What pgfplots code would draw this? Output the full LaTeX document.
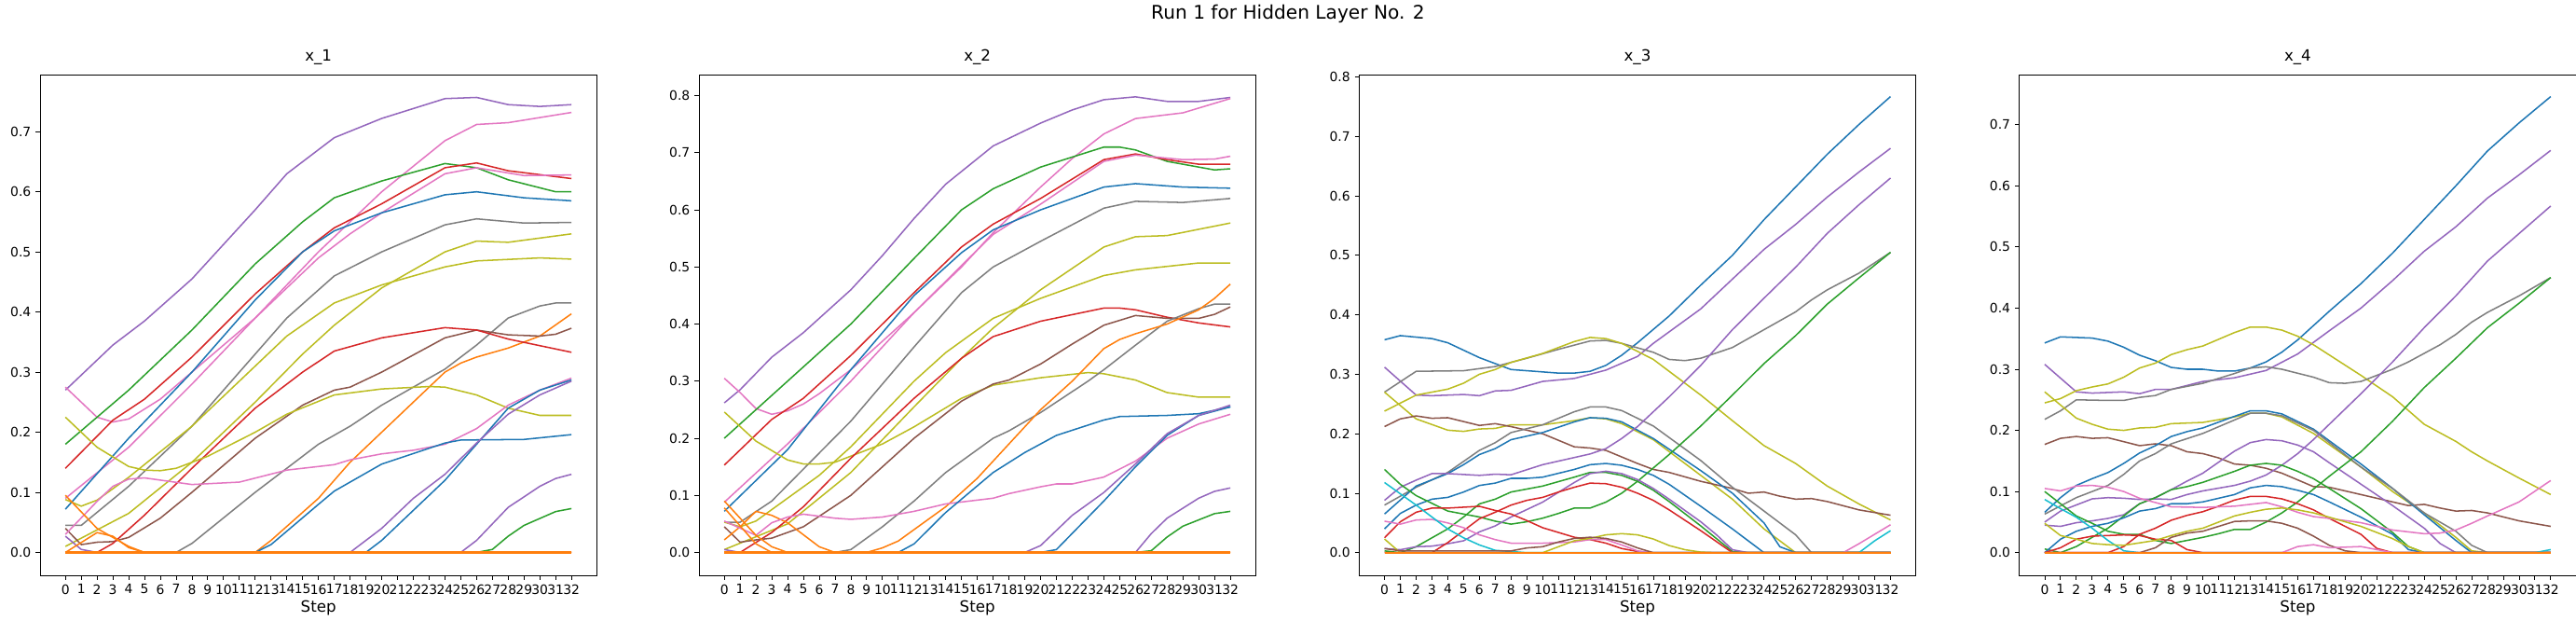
\documentclass[border=0pt]{standalone}
\usepackage{pgfplots}
\pgfplotsset{compat=1.18}
\usepackage{fontspec}
\setmainfont{DejaVu Sans}
\definecolor{C0}{HTML}{1f77b4}\definecolor{C1}{HTML}{ff7f0e}\definecolor{C2}{HTML}{2ca02c}
\definecolor{C3}{HTML}{d62728}\definecolor{C4}{HTML}{9467bd}\definecolor{C5}{HTML}{8c564b}
\definecolor{C6}{HTML}{e377c2}\definecolor{C7}{HTML}{7f7f7f}\definecolor{C8}{HTML}{bcbd22}
\definecolor{C9}{HTML}{17becf}
\pgfplotsset{pan/.style={scale only axis, width=430pt, height=386.6pt, anchor=south west,
  xmin=-1.6, xmax=33.6, xtick={0,...,32}, ytick={0,0.1,...,0.8},
  tick align=outside, xtick pos=bottom, ytick pos=left,
  tick style={black, line width=0.6pt}, major tick length=3.5pt,
  /pgf/number format/assume math mode=true,
  yticklabel style={/pgf/number format/.cd, fixed, precision=1, fixed zerofill, assume math mode=true},
  xticklabel style={/pgf/number format/.cd, int detect, assume math mode=true, /tikz/.cd, inner xsep=0pt},
  ticklabel style={font=\fontsize{10}{12}\selectfont},
  title style={font=\fontsize{12}{14}\selectfont, yshift=-2pt},
  xlabel={Step}, xlabel style={font=\fontsize{12}{14}\selectfont, yshift=2pt},
  axis line style={line width=0.6pt},
  every axis plot/.append style={line width=1.1pt, mark=none, line join=round}}}
\begin{document}
\begin{tikzpicture}
\useasboundingbox (0,0) rectangle (1990pt,478.8pt);
\node[font=\fontsize{14.5}{17}\selectfont] at (995pt,468pt) {Run 1 for Hidden Layer No. 2};
% ---------- x_1
\begin{axis}[pan, at={(31pt,34.6pt)}, title={x\_1}, ymin=-0.038, ymax=0.795, ytick={0,0.1,...,0.7}]
\addplot[C4] coordinates {(0,.27)(1,.295)(3,.345)(5,.385)(8,.455)(12,.57)(14,.63)(17,.69)(20,.722)(24,.755)(26,.757)(28,.745)(30,.742)(32,.745)};
\addplot[C6] coordinates {(0,.275)(2,.225)(3,.217)(4,.222)(6,.255)(8,.3)(12,.39)(16,.5)(20,.6)(24,.685)(26,.712)(28,.715)(32,.732)};
\addplot[C2] coordinates {(0,.18)(4,.27)(8,.37)(12,.48)(15,.55)(17,.59)(20,.618)(24,.647)(26,.64)(28,.62)(31,.6)(32,.6)};
\addplot[C3] coordinates {(0,.14)(3,.22)(5,.255)(8,.325)(12,.43)(15,.5)(17,.54)(20,.58)(24,.64)(26,.648)(28,.635)(32,.622)};
\addplot[C6] coordinates {(0,.09)(4,.175)(8,.28)(12,.39)(16,.49)(18,.53)(20,.565)(24,.63)(26,.64)(29,.627)(32,.628)};
\addplot[C0] coordinates {(0,.072)(4,.19)(8,.3)(12,.42)(15,.5)(17,.535)(20,.565)(24,.595)(26,.6)(29,.59)(32,.585)};
\addplot[C7] coordinates {(0,.045)(1,.045)(4,.11)(8,.21)(12,.33)(14,.39)(17,.46)(20,.5)(24,.545)(26,.555)(29,.548)(32,.549)};
\addplot[C8] coordinates {(0,.01)(4,.065)(8,.15)(12,.25)(15,.33)(17,.378)(20,.44)(24,.5)(26,.518)(28,.516)(32,.53)};
\addplot[C8] coordinates {(0,.088)(1,.077)(2,.087)(4,.125)(8,.21)(12,.31)(14,.36)(17,.415)(20,.445)(24,.475)(26,.485)(30,.49)(32,.488)};
\addplot[C7] coordinates {(0,0)(7,0)(8,.015)(12,.1)(16,.18)(18,.21)(20,.245)(24,.305)(26,.345)(28,.39)(30,.41)(31,.415)(32,.415)};
\addplot[C1] coordinates {(0,0)(12,0)(13,.02)(16,.09)(18,.15)(20,.2)(24,.3)(25,.315)(26,.325)(28,.34)(30,.36)(32,.397)};
\addplot[C5] coordinates {(0,.04)(1,.013)(2,.017)(3,.018)(4,.025)(6,.057)(8,.1)(12,.19)(15,.245)(17,.27)(18,.275)(20,.3)(24,.357)(26,.37)(28,.362)(30,.36)(31,.363)(32,.373)};
\addplot[C3] coordinates {(0,0)(2,0)(3,.015)(5,.062)(8,.14)(12,.24)(15,.3)(17,.335)(20,.357)(24,.374)(26,.37)(28,.355)(32,.333)};
\addplot[C8] coordinates {(0,.225)(2,.175)(4,.143)(5,.137)(6,.136)(7,.14)(9,.16)(12,.2)(14,.23)(17,.262)(20,.272)(23,.276)(24,.275)(26,.262)(28,.24)(30,.228)(32,.228)};
\addplot[C6] coordinates {(0,.03)(2,.085)(3,.11)(4,.122)(5,.124)(8,.113)(11,.117)(14,.137)(17,.146)(18,.154)(20,.164)(22,.17)(24,.18)(26,.206)(28,.245)(30,.27)(32,.29)};
\addplot[C0] coordinates {(0,0)(12,0)(13,.013)(16,.08)(17,.102)(20,.147)(24,.182)(25,.187)(29,.188)(32,.196)};
\addplot[C0] coordinates {(0,0)(19,0)(20,.02)(24,.12)(26,.18)(28,.24)(30,.27)(32,.287)};
\addplot[C4] coordinates {(0,0)(18,0)(20,.04)(22,.09)(24,.13)(26,.182)(28,.23)(30,.262)(32,.285)};
\addplot[C4] coordinates {(0,0)(25,0)(26,.02)(28,.075)(30,.11)(31,.123)(32,.13)};
\addplot[C2] coordinates {(0,0)(26,0)(27,.005)(28,.027)(29,.045)(31,.068)(32,.073)};
\addplot[C4] coordinates {(0,.027)(1,.005)(2,0)(32,0)};
\addplot[C1] coordinates {(0,.095)(2,.04)(4,.01)(5,0)(32,0)};
\addplot[C1] coordinates {(0,0)(2,.033)(3,.027)(4,.008)(5,0)(32,0)};
\addplot[C1, line width=1.6pt] coordinates {(0,0)(32,0)};
\end{axis}
% ---------- x_2
\begin{axis}[pan, at={(540pt,34.6pt)}, title={x\_2}, ymin=-0.04, ymax=0.837]
\addplot[C4] coordinates {(0,.262)(1,.285)(3,.342)(5,.385)(8,.46)(10,.52)(12,.585)(14,.645)(17,.712)(20,.752)(22,.775)(24,.793)(26,.798)(28,.79)(30,.79)(32,.797)};
\addplot[C6] coordinates {(0,.305)(1,.28)(2,.252)(3,.242)(4,.248)(5,.26)(6,.278)(8,.32)(12,.42)(15,.5)(17,.56)(20,.64)(22,.69)(24,.733)(26,.76)(29,.77)(32,.795)};
\addplot[C2] coordinates {(0,.2)(4,.3)(8,.4)(12,.515)(15,.6)(17,.637)(20,.675)(24,.71)(25,.71)(26,.705)(28,.685)(31,.67)(32,.672)};
\addplot[C3] coordinates {(0,.153)(3,.233)(5,.27)(8,.345)(12,.455)(15,.535)(17,.575)(20,.62)(24,.688)(26,.698)(28,.688)(30,.68)(32,.68)};
\addplot[C6] coordinates {(0,.088)(4,.19)(8,.3)(12,.42)(16,.53)(17,.557)(20,.61)(24,.685)(26,.696)(29,.688)(31,.689)(32,.694)};
\addplot[C0] coordinates {(0,.072)(4,.18)(8,.32)(12,.45)(15,.525)(17,.565)(20,.6)(24,.64)(26,.646)(29,.64)(32,.638)};
\addplot[C7] coordinates {(0,.053)(1,.053)(3,.09)(8,.23)(12,.36)(15,.455)(17,.5)(20,.545)(24,.603)(26,.615)(29,.613)(32,.62)};
\addplot[C8] coordinates {(0,.005)(4,.05)(8,.14)(12,.255)(15,.34)(17,.393)(20,.46)(24,.535)(26,.553)(28,.555)(32,.577)};
\addplot[C8] coordinates {(0,.053)(1,.045)(2,.055)(3,.075)(6,.135)(8,.185)(12,.3)(14,.35)(17,.41)(20,.445)(24,.485)(26,.495)(30,.507)(32,.507)};
\addplot[C8] coordinates {(0,.246)(2,.195)(4,.162)(5,.155)(6,.155)(7,.158)(10,.19)(12,.22)(15,.27)(17,.293)(20,.306)(23,.315)(24,.313)(26,.302)(28,.28)(30,.272)(32,.272)};
\addplot[C3] coordinates {(0,0)(1,0)(3,.035)(5,.08)(8,.165)(12,.27)(15,.34)(17,.378)(20,.405)(24,.428)(25,.428)(26,.425)(28,.412)(30,.402)(32,.395)};
\addplot[C5] coordinates {(0,.045)(1,.018)(2,.022)(3,.025)(5,.045)(8,.1)(12,.2)(15,.265)(17,.295)(18,.302)(20,.33)(22,.365)(24,.398)(26,.415)(28,.41)(30,.41)(31,.417)(32,.43)};
\addplot[C7] coordinates {(0,0)(7,0)(8,.005)(10,.045)(12,.09)(14,.14)(17,.2)(18,.213)(20,.245)(23,.3)(24,.32)(26,.363)(28,.405)(30,.427)(31,.435)(32,.435)};
\addplot[C1] coordinates {(0,.022)(1,.045)(2,.072)(3,.065)(4,.052)(6,.01)(7,0)(9,0)(10,.008)(11,.02)(12,.04)(14,.08)(16,.13)(18,.19)(20,.25)(22,.3)(24,.357)(25,.373)(26,.383)(28,.4)(30,.425)(31,.445)(32,.47)};
\addplot[C6] coordinates {(0,.055)(2,.03)(3,.052)(4,.062)(5,.067)(7,.06)(8,.058)(10,.062)(12,.072)(14,.085)(17,.095)(18,.103)(20,.115)(21,.12)(22,.12)(24,.132)(26,.16)(28,.2)(30,.225)(32,.242)};
\addplot[C0] coordinates {(0,0)(11,0)(12,.015)(14,.07)(17,.14)(19,.175)(21,.205)(24,.232)(25,.238)(28,.24)(30,.243)(32,.255)};
\addplot[C0] coordinates {(0,0)(20,0)(21,.005)(24,.09)(26,.15)(28,.205)(30,.24)(32,.255)};
\addplot[C4] coordinates {(0,.005)(1,0)(19,0)(20,.012)(22,.065)(24,.105)(26,.155)(28,.208)(30,.24)(32,.258)};
\addplot[C4] coordinates {(0,0)(26,0)(27,.033)(28,.06)(30,.095)(31,.107)(32,.113)};
\addplot[C2] coordinates {(0,0)(26,0)(27,.003)(28,.027)(29,.046)(31,.068)(32,.072)};
\addplot[C1] coordinates {(0,.09)(1,.06)(2,.03)(3,.01)(4,0)(32,0)};
\addplot[C1] coordinates {(0,.078)(2,.015)(3,0)(32,0)};
\addplot[C1, line width=1.6pt] coordinates {(0,0)(32,0)};
\end{axis}
% ---------- x_3
\begin{axis}[pan, at={(1050pt,34.6pt)}, title={x\_3}, ymin=-0.038, ymax=0.804]
\addplot[C0] coordinates {(0,.358)(1,.365)(3,.36)(4,.353)(6,.328)(8,.308)(9,.306)(11,.302)(12,.302)(13,.305)(14,.315)(15,.332)(16,.353)(18,.398)(20,.45)(22,.5)(24,.56)(26,.615)(28,.67)(30,.72)(32,.767)};
\addplot[C4] coordinates {(0,.312)(2,.265)(3,.264)(5,.266)(6,.264)(7,.272)(8,.273)(10,.288)(12,.293)(14,.307)(16,.33)(17,.352)(20,.41)(22,.46)(24,.51)(26,.552)(28,.598)(30,.64)(32,.68)};
\addplot[C7] coordinates {(0,.27)(2,.305)(5,.306)(7,.313)(9,.327)(11,.342)(13,.356)(14,.357)(15,.352)(17,.337)(18,.325)(19,.323)(20,.327)(22,.345)(24,.375)(26,.405)(27,.425)(28,.442)(30,.47)(32,.505)};
\addplot[C8] coordinates {(0,.238)(2,.265)(4,.275)(5,.285)(6,.3)(7,.308)(8,.32)(10,.335)(12,.355)(13,.362)(14,.36)(15,.352)(17,.325)(20,.265)(22,.222)(24,.18)(26,.15)(28,.112)(30,.082)(32,.055)};
\addplot[C8] coordinates {(0,.27)(2,.225)(4,.206)(5,.204)(6,.208)(7,.209)(8,.215)(10,.215)(12,.222)(13,.227)(14,.225)(15,.217)(17,.19)(20,.13)(22,.09)(24,.04)(25,.02)(26,0)(32,0)};
\addplot[C5] coordinates {(0,.212)(1,.225)(2,.23)(3,.226)(4,.227)(6,.214)(7,.217)(8,.212)(10,.2)(12,.178)(13,.176)(14,.172)(16,.15)(17,.14)(18,.135)(20,.12)(22,.108)(23,.1)(24,.102)(25,.095)(26,.09)(27,.091)(28,.086)(30,.072)(32,.063)};
\addplot[C7] coordinates {(0,.08)(2,.11)(4,.135)(6,.172)(7,.185)(8,.202)(10,.215)(12,.237)(13,.245)(14,.245)(15,.239)(17,.213)(20,.155)(22,.11)(24,.07)(26,.03)(27,0)(32,0)};
\addplot[C0] coordinates {(0,.065)(2,.112)(4,.133)(5,.148)(6,.165)(7,.175)(8,.19)(10,.202)(12,.22)(13,.227)(14,.226)(15,.22)(17,.192)(20,.138)(22,.1)(24,.05)(25,.01)(26,0)(32,0)};
\addplot[C4] coordinates {(0,.088)(1,.11)(2,.122)(3,.133)(4,.133)(6,.13)(7,.132)(8,.131)(10,.148)(12,.16)(13,.166)(14,.175)(15,.192)(16,.212)(18,.262)(20,.315)(22,.375)(24,.428)(26,.48)(28,.537)(30,.585)(32,.63)};
\addplot[C0] coordinates {(0,.04)(1,.066)(2,.08)(3,.09)(4,.093)(5,.102)(6,.113)(7,.117)(8,.125)(9,.125)(10,.127)(12,.14)(13,.148)(14,.15)(15,.147)(16,.14)(17,.13)(18,.115)(20,.078)(22,.04)(24,0)(32,0)};
\addplot[C2] coordinates {(0,.14)(1,.115)(2,.096)(3,.083)(4,.07)(5,.065)(6,.06)(7,.053)(8,.048)(9,.052)(10,.058)(11,.066)(12,.075)(13,.075)(14,.085)(15,.1)(16,.12)(18,.165)(20,.213)(22,.265)(24,.318)(26,.365)(28,.418)(30,.462)(32,.505)};
\addplot[C2] coordinates {(0,.003)(1,0)(2,.01)(3,.025)(4,.04)(5,.06)(6,.082)(7,.09)(8,.102)(9,.107)(10,.112)(12,.127)(13,.135)(14,.135)(15,.13)(16,.12)(17,.105)(18,.086)(20,.045)(22,.002)(23,0)(32,0)};
\addplot[C4] coordinates {(0,.007)(1,.005)(2,.01)(3,.011)(4,.015)(5,.02)(6,.035)(7,.045)(8,.06)(10,.085)(12,.118)(13,.133)(14,.137)(15,.133)(16,.123)(17,.108)(18,.09)(20,.052)(21,.03)(22,.005)(23,0)(32,0)};
\addplot[C3] coordinates {(0,.025)(1,.052)(2,.068)(3,.075)(4,.075)(6,.078)(7,.071)(8,.065)(9,.054)(10,.042)(11,.034)(12,.026)(13,.022)(14,.016)(15,.007)(16,.002)(17,0)(32,0)};
\addplot[C3] coordinates {(0,0)(3,0)(4,.017)(5,.037)(6,.057)(7,.068)(8,.08)(9,.088)(10,.093)(11,.102)(12,.11)(13,.117)(14,.116)(15,.11)(16,.1)(17,.088)(18,.072)(20,.037)(22,0)(32,0)};
\addplot[C6] coordinates {(0,.053)(1,.048)(2,.055)(3,.056)(4,.05)(5,.042)(6,.03)(7,.022)(8,.016)(10,.016)(12,.018)(13,.022)(14,.022)(15,.013)(16,.003)(17,0)(29,0)(30,.015)(32,.047)};
\addplot[C9] coordinates {(0,.118)(2,.08)(3,.06)(4,.04)(5,.025)(6,.013)(7,.004)(8,.002)(9,0)(30,0)(31,.02)(32,.037)};
\addplot[C8] coordinates {(0,.023)(1,0)(10,0)(11,.01)(12,.02)(13,.024)(14,.03)(15,.032)(16,.03)(17,.023)(18,.012)(19,.005)(20,.001)(21,0)(32,0)};
\addplot[C5] coordinates {(0,.007)(1,.003)(8,.003)(9,.008)(10,.01)(11,.018)(12,.024)(13,.026)(14,.024)(15,.018)(16,.008)(17,0)(32,0)};
\addplot[C1, line width=1.6pt] coordinates {(0,0)(32,0)};
\end{axis}
% ---------- x_4
\begin{axis}[pan, at={(1560pt,34.6pt)}, title={x\_4}, ymin=-0.037, ymax=0.782, ytick={0,0.1,...,0.7}]
\addplot[C0] coordinates {(0,.343)(1,.353)(3,.351)(4,.346)(5,.336)(6,.323)(7,.314)(8,.303)(9,.3)(10,.3)(11,.297)(12,.297)(13,.302)(14,.312)(15,.328)(16,.348)(18,.395)(20,.44)(22,.49)(24,.545)(26,.6)(28,.657)(30,.703)(32,.746)};
\addplot[C4] coordinates {(0,.308)(2,.263)(3,.261)(5,.263)(6,.26)(7,.267)(8,.267)(10,.28)(12,.286)(14,.298)(16,.325)(18,.363)(20,.4)(22,.445)(24,.493)(26,.533)(28,.58)(30,.618)(32,.658)};
\addplot[C8] coordinates {(0,.245)(1,.252)(2,.265)(3,.271)(4,.276)(5,.287)(6,.302)(7,.31)(8,.324)(9,.332)(10,.338)(12,.36)(13,.369)(14,.369)(15,.364)(16,.354)(17,.34)(20,.29)(22,.255)(24,.21)(26,.182)(27,.165)(28,.15)(30,.122)(32,.095)};
\addplot[C7] coordinates {(0,.218)(1,.232)(2,.25)(4,.249)(5,.249)(6,.254)(7,.257)(8,.267)(10,.277)(12,.293)(13,.302)(14,.304)(15,.3)(17,.287)(18,.278)(19,.277)(20,.28)(21,.29)(22,.3)(23,.312)(24,.326)(25,.34)(26,.357)(27,.377)(28,.393)(30,.42)(32,.45)};
\addplot[C8] coordinates {(0,.263)(2,.22)(3,.21)(4,.202)(5,.2)(6,.204)(7,.205)(8,.211)(10,.213)(12,.222)(13,.228)(14,.228)(15,.222)(17,.195)(20,.14)(22,.1)(24,.065)(26,.025)(27,.003)(28,0)(32,0)};
\addplot[C5] coordinates {(0,.177)(1,.187)(2,.19)(3,.187)(4,.188)(6,.175)(7,.178)(8,.175)(9,.165)(10,.162)(11,.155)(12,.145)(13,.143)(14,.138)(15,.13)(17,.108)(18,.107)(20,.095)(22,.083)(23,.077)(24,.079)(25,.073)(26,.068)(27,.069)(28,.065)(30,.052)(32,.043)};
\addplot[C0] coordinates {(0,.066)(1,.09)(2,.11)(3,.121)(4,.131)(5,.146)(6,.163)(7,.175)(8,.19)(9,.198)(10,.204)(12,.223)(13,.232)(14,.232)(15,.227)(17,.202)(20,.145)(22,.105)(24,.062)(26,.02)(27,0)(32,0)};
\addplot[C7] coordinates {(0,.063)(2,.09)(4,.11)(5,.128)(6,.15)(7,.162)(8,.178)(10,.195)(12,.217)(13,.228)(14,.228)(15,.224)(17,.2)(20,.14)(22,.105)(24,.065)(26,.035)(27,.012)(28,0)(32,0)};
\addplot[C4] coordinates {(0,.05)(1,.068)(2,.078)(3,.088)(4,.09)(5,.089)(6,.087)(7,.088)(8,.087)(9,.095)(10,.101)(12,.11)(13,.117)(14,.127)(15,.143)(16,.162)(17,.185)(18,.21)(20,.26)(22,.312)(24,.368)(26,.42)(28,.477)(30,.522)(32,.567)};
\addplot[C4] coordinates {(0,.045)(1,.043)(2,.049)(3,.052)(4,.056)(5,.062)(6,.08)(7,.09)(8,.103)(9,.117)(10,.13)(11,.148)(12,.166)(13,.18)(14,.185)(15,.183)(16,.176)(17,.165)(18,.147)(20,.112)(22,.077)(24,.04)(25,.015)(26,0)(32,0)};
\addplot[C2] coordinates {(0,.1)(1,.08)(2,.06)(3,.048)(4,.035)(5,.03)(6,.03)(7,.02)(8,.015)(9,.02)(10,.025)(11,.031)(12,.038)(13,.038)(14,.05)(15,.065)(16,.083)(18,.125)(20,.165)(22,.215)(24,.27)(26,.318)(28,.368)(30,.408)(32,.45)};
\addplot[C2] coordinates {(0,.006)(1,0)(2,.01)(3,.025)(4,.04)(5,.06)(6,.08)(7,.09)(8,.103)(9,.108)(10,.115)(12,.133)(13,.143)(14,.146)(15,.143)(16,.133)(17,.121)(18,.105)(20,.072)(22,.033)(23,.01)(24,0)(32,0)};
\addplot[C0] coordinates {(0,0)(1,.022)(2,.035)(3,.043)(4,.048)(5,.057)(6,.068)(7,.072)(8,.08)(9,.08)(10,.083)(12,.095)(13,.106)(14,.11)(15,.108)(16,.102)(17,.095)(18,.083)(20,.058)(22,.03)(23,.005)(24,0)(32,0)};
\addplot[C3] coordinates {(0,0)(1,.008)(2,.022)(3,.027)(4,.028)(5,.029)(6,.028)(7,.022)(8,.02)(9,.005)(10,0)(32,0)};
\addplot[C3] coordinates {(0,0)(4,0)(5,.01)(6,.03)(7,.04)(8,.053)(9,.061)(10,.067)(11,.076)(12,.086)(13,.092)(14,.092)(15,.088)(16,.08)(17,.07)(18,.056)(20,.03)(21,.007)(22,0)(32,0)};
\addplot[C6] coordinates {(0,.105)(1,.101)(2,.109)(3,.11)(4,.107)(5,.1)(6,.089)(7,.082)(8,.075)(10,.074)(12,.076)(13,.079)(14,.082)(15,.075)(16,.066)(17,.059)(18,.056)(20,.049)(22,.037)(23,.034)(24,.031)(25,.032)(26,.037)(27,.048)(28,.06)(30,.083)(32,.118)};
\addplot[C9] coordinates {(0,.087)(1,.072)(2,.058)(3,.04)(4,.02)(5,.003)(6,0)(31,0)(32,.005)};
\addplot[C8] coordinates {(0,.048)(1,.028)(2,.022)(3,.015)(4,.013)(5,.012)(6,.016)(7,.02)(8,.028)(9,.035)(10,.04)(11,.05)(12,.06)(13,.066)(14,.071)(15,.073)(16,.07)(17,.065)(18,.058)(20,.043)(22,.023)(23,.01)(24,0)(32,0)};
\addplot[C5] coordinates {(0,0)(6,0)(7,.008)(8,.025)(9,.032)(10,.035)(11,.043)(12,.051)(13,.052)(14,.052)(15,.048)(16,.04)(17,.027)(18,.012)(19,.003)(20,0)(32,0)};
\addplot[C6] coordinates {(0,0)(15,0)(16,.01)(17,.013)(18,.008)(20,.01)(21,.005)(22,0)(32,0)};
\addplot[C1, line width=1.6pt] coordinates {(0,0)(32,0)};
\end{axis}
\end{tikzpicture}
\end{document}
